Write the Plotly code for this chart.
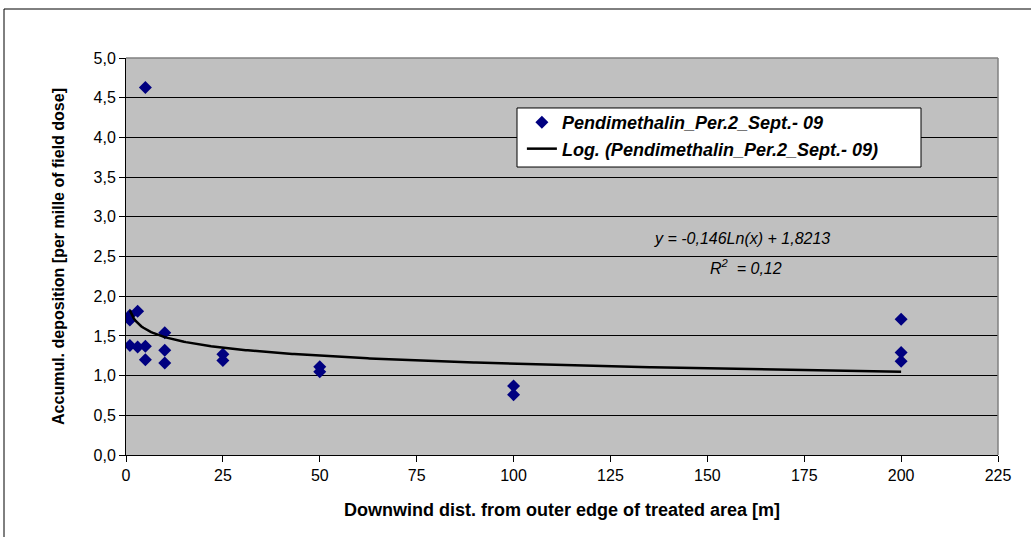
import numpy as np
import plotly.graph_objects as go

# Measured deposition at each downwind distance
distance_m = [1, 1, 1, 3, 3, 5, 5, 5, 10, 10, 10, 25, 25, 50, 50, 100, 100, 200, 200, 200]
deposition = [1.76, 1.70, 1.38, 1.81, 1.36, 4.63, 1.37, 1.20, 1.54, 1.32, 1.16,
              1.27, 1.19, 1.11, 1.05, 0.87, 0.76, 1.71, 1.29, 1.18]

# Logarithmic trendline coefficients: y = a*ln(x) + b
trend_a = -0.146
trend_b = 1.8213
r_squared = 0.12

series_name = "Pendimethalin_Per.2_Sept.- 09"
x_ticks = [0, 25, 50, 75, 100, 125, 150, 175, 200, 225]
y_ticks = [0.0, 0.5, 1.0, 1.5, 2.0, 2.5, 3.0, 3.5, 4.0, 4.5, 5.0]

trend_x = np.linspace(1, 200, 400)
trend_y = trend_a * np.log(trend_x) + trend_b

FONT = "Liberation Sans, Arial, sans-serif"

fig = go.Figure()
fig.add_trace(go.Scatter(
    x=distance_m, y=deposition, mode="markers", name=series_name,
    marker=dict(symbol="diamond", size=10, color="#000080"),
))
fig.add_trace(go.Scatter(
    x=trend_x, y=trend_y, mode="lines", name=f"Log. ({series_name})",
    line=dict(color="black", width=2.5),
))

fig.update_layout(
    width=1031, height=537,
    margin=dict(l=126, r=33, t=58, b=82),
    paper_bgcolor="white",
    plot_bgcolor="#C0C0C0",
    separators=",.",
    font=dict(family=FONT, size=16, color="black"),
    showlegend=True,
    legend=dict(
        x=0.454, y=0.884, xanchor="left", yanchor="top",
        bgcolor="rgba(0,0,0,0)", borderwidth=0,
        font=dict(family=FONT, size=18, color="black", weight="bold", style="italic"),
        itemwidth=30, tracegroupgap=2,
    ),
    xaxis=dict(
        range=[0, 225], tickvals=x_ticks, ticks="outside", ticklen=6,
        tickcolor="black", showline=True, linecolor="black", linewidth=1,
        showgrid=False, zeroline=False, mirror=False,
        tickfont=dict(family=FONT, size=16),
        title=dict(text="Downwind dist. from outer edge of treated area [m]",
                   font=dict(family=FONT, size=18, weight="bold"), standoff=20),
    ),
    yaxis=dict(
        range=[0, 5], tickvals=y_ticks, tickformat=".1f", ticks="outside",
        ticklen=6, tickcolor="black", showline=True, linecolor="black",
        linewidth=1, showgrid=True, gridcolor="black", gridwidth=1,
        zeroline=False, tickfont=dict(family=FONT, size=16),
        title=dict(text="Accumul. deposition [per mille of field dose]",
                   font=dict(family=FONT, size=16, weight="bold"), standoff=24),
    ),
)

# Plot-area outline (top and right edges)
fig.add_shape(type="line", xref="paper", yref="paper", x0=0, x1=1, y0=1, y1=1,
              line=dict(color="#808080", width=1.5))
fig.add_shape(type="line", xref="paper", yref="paper", x0=1, x1=1, y0=0, y1=1,
              line=dict(color="#808080", width=1.5))
# Chart-area frame
fig.add_shape(type="line", xref="paper", yref="paper", x0=-0.1399, x1=1.1,
              y0=1.1234, y1=1.1234, line=dict(color="black", width=1))
fig.add_shape(type="line", xref="paper", yref="paper", x0=-0.1399, x1=-0.1399,
              y0=-0.25, y1=1.1234, line=dict(color="black", width=1))
# Legend box
fig.add_shape(type="rect", xref="paper", yref="paper",
              x0=0.4484, x1=0.9117, y0=0.7254, y1=0.8741,
              fillcolor="white", line=dict(color="black", width=1), layer="above")

# Trendline equation and fit quality
eq_a = f"{trend_a:.3f}".replace(".", ",")
eq_b = f"{trend_b:.4f}".replace(".", ",")
r2 = f"{r_squared:.2f}".replace(".", ",")
fig.add_annotation(x=159, y=2.73, xref="x", yref="y", showarrow=False,
                   text=f"<i>y = {eq_a}Ln(x) + {eq_b}</i>",
                   font=dict(family=FONT, size=16))
fig.add_annotation(x=160, y=2.37, xref="x", yref="y", showarrow=False,
                   text=f"<i>R<sup>2</sup>  = {r2}</i>",
                   font=dict(family=FONT, size=16))

fig.write_html("out.html")
